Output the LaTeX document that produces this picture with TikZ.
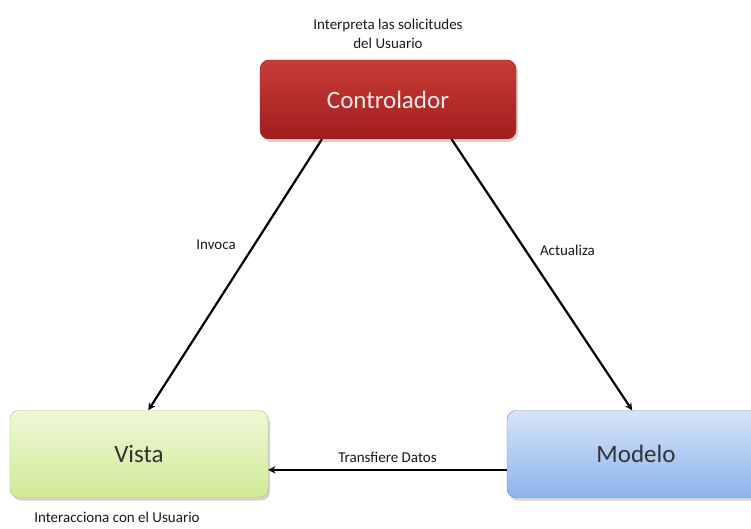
\documentclass[tikz,border=0pt]{standalone}
\usepackage{fontspec}
\setmainfont{Carlito}
\usepackage{tikz}
\usetikzlibrary{positioning,shadows}
\definecolor{ctrlred}{RGB}{200,60,55}
\definecolor{ctrlreddark}{RGB}{160,30,30}
\definecolor{vistagreen}{RGB}{238,248,214}
\definecolor{vistagreendark}{RGB}{208,235,150}
\definecolor{vistaedge}{RGB}{170,200,110}
\definecolor{modeloblue}{RGB}{214,228,248}
\definecolor{modelobluedark}{RGB}{140,180,235}
\definecolor{modeloedge}{RGB}{100,140,200}

\begin{document}
\begin{tikzpicture}[x=1pt, y=-1pt,
  box/.style={draw, rectangle, rounded corners=9pt, minimum width=256pt, minimum height=80pt, font=\fontsize{25}{30}\selectfont, drop shadow={opacity=0.35, shadow xshift=2pt, shadow yshift=-3pt}},
  note/.style={font=\fontsize{15}{19}\selectfont, text=black!90, align=center},
  link/.style={->, line width=2.2pt, >=stealth}]
\useasboundingbox (0,0) rectangle (751,529);
\node[box, top color=ctrlred, bottom color=ctrlreddark, draw=ctrlreddark, text=white!92!red, minimum height=79pt] (ctrl) at (388,99.5) {Controlador};
\node[box, top color=vistagreen, bottom color=vistagreendark, draw=vistaedge, text=black!80, minimum width=258pt, minimum height=87pt] (vista) at (139,454) {Vista};
\node[box, top color=modeloblue, bottom color=modelobluedark, draw=modeloedge, text=black!80, minimum width=258pt, minimum height=87pt] (modelo) at (636,454) {Modelo};
\node[note, above=8pt of ctrl] (ctrlnote) {Interpreta las solicitudes\\del Usuario};
\node[note, below=11pt of vista, xshift=-22pt] (vistanote) {Interacciona con el Usuario};
\draw[link] (ctrl.211) to node[pos=0.39, left=14pt, note] (invoca) {Invoca} (vista.78);
\draw[link] (ctrl.328) to node[pos=0.41, right=10pt, note] (actualiza) {Actualiza} (modelo.95);
\draw[link] (modelo.187) to node[above=3pt, note] (transfiere) {Transfiere Datos} (vista.353);
\end{tikzpicture}
\end{document}
